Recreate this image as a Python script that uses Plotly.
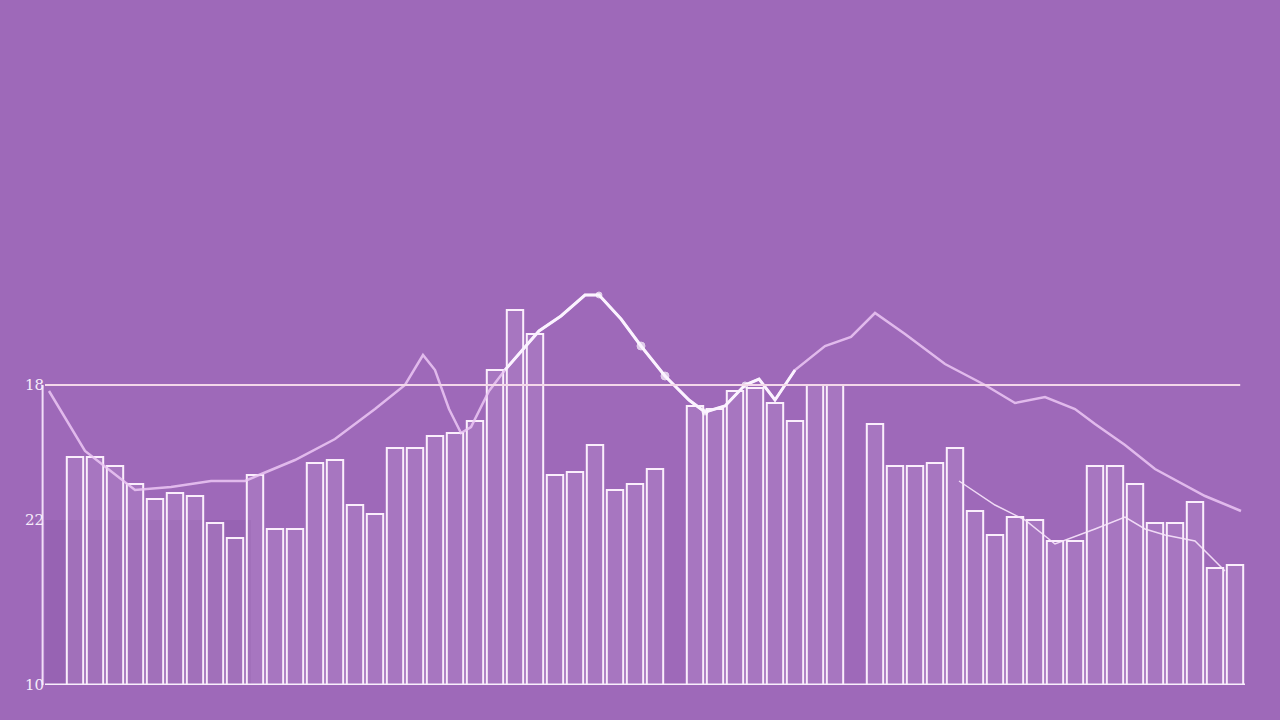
import plotly.graph_objects as go

# ---- data ----
periods = list(range(60))
bar_values = [0, 76, 76, 73, 67, 62, 64, 63, 54, 49,
              70, 52, 52, 74, 75, 60, 57, 79, 79, 83,
              84, 88, 105, 125, 117, 70, 71, 80, 65, 67,
              72, 0, 93, 92, 98, 99, 94, 88, 100, 100,
              0, 87, 73, 73, 74, 79, 58, 50, 56, 55,
              48, 48, 73, 73, 67, 54, 54, 61, 39, 40]

trend_x = [-0.3, 1.5, 4.0, 5.8, 7.8, 9.5, 10.2, 12.0, 14.0, 16.0,
           17.5, 18.4, 19.0, 19.7, 20.3, 20.8, 21.7, 22.5, 24.2, 25.3,
           26.5, 27.2, 28.3, 29.3, 30.5, 31.7, 32.5, 33.5, 34.5, 35.2,
           36.0, 37.0, 38.5, 39.8, 41.0, 42.5, 44.5, 46.5, 48.0, 49.5,
           51.0, 52.0, 53.5, 55.0, 57.5, 59.3]
trend_y = [98, 78, 65, 66, 68, 68, 70, 75, 82, 92,
           100, 110, 105, 92, 84, 86, 98, 105, 118, 123,
           130, 130, 122, 113, 103, 95, 91, 93, 100, 102,
           95, 105, 113, 116, 124, 117, 107, 100, 94, 96,
           92, 87, 80, 72, 63, 58]

second_x = [45.2, 47.0, 48.5, 50.0, 52.0, 53.5, 54.5, 55.5, 57.0, 58.5]
second_y = [68, 60, 55, 47, 52, 56, 52, 50, 48, 38]

tick_vals = [0, 55, 100]
tick_text = ["10", "22", "18"]

# ---- figure ----
BG = "#9e69b9"
fig = go.Figure()

fig.add_trace(go.Bar(
    x=periods, y=bar_values,
    marker=dict(color="rgba(255,235,255,0.10)",
                line=dict(color="rgba(255,245,255,0.95)", width=2)),
    showlegend=False,
))

fig.add_trace(go.Scatter(
    x=trend_x, y=trend_y, mode="lines",
    line=dict(color="rgba(236,200,245,0.85)", width=2.5),
    showlegend=False,
))

# bright highlighted middle segment of the same series
seg = slice(17, 32)
fig.add_trace(go.Scatter(
    x=trend_x[seg], y=trend_y[seg], mode="lines+markers",
    line=dict(color="#fbf3ff", width=3),
    marker=dict(size=[0, 0, 0, 0, 6, 0, 8, 8, 0, 6, 0, 6, 0, 0, 0],
                color="#fbf3ff"),
    showlegend=False,
))

fig.add_trace(go.Scatter(
    x=second_x, y=second_y, mode="lines",
    line=dict(color="rgba(248,230,252,0.9)", width=1.5),
    showlegend=False,
))

shapes = [
    dict(type="line", xref="paper", yref="y", x0=0, x1=0.996, y0=100, y1=100,
         line=dict(color="#f4d8ea", width=2)),
    dict(type="line", xref="paper", yref="y", x0=-0.002, x1=-0.002, y0=0, y1=100,
         line=dict(color="rgba(250,235,255,0.9)", width=2)),
    dict(type="line", xref="paper", yref="y", x0=0, x1=1, y0=0, y1=0,
         line=dict(color="#f8eefc", width=3)),
    dict(type="rect", xref="x", yref="y", x0=-0.5, x1=9.8, y0=0, y1=55,
         fillcolor="rgba(110,60,140,0.12)", line=dict(width=0), layer="below"),
]

fig.update_layout(
    width=1280, height=720,
    paper_bgcolor=BG, plot_bgcolor=BG,
    margin=dict(l=45, r=35, t=100, b=35),
    bargap=0.18,
    shapes=shapes,
    xaxis=dict(range=[-0.5, 59.5], showgrid=False, zeroline=False,
               showticklabels=False, showline=False),
    yaxis=dict(range=[0, 195], showgrid=False, zeroline=False, showline=False,
               tickvals=tick_vals, ticktext=tick_text, ticks="",
               tickfont=dict(family="DejaVu Serif", size=15, color="#f6ecfa")),
)

fig.write_html(
    "out.html",
    config={"displayModeBar": False},
    post_script="document.body.style.margin='0';"
                "document.body.style.overflow='hidden';"
                "document.body.style.background='#9e69b9';",
)
